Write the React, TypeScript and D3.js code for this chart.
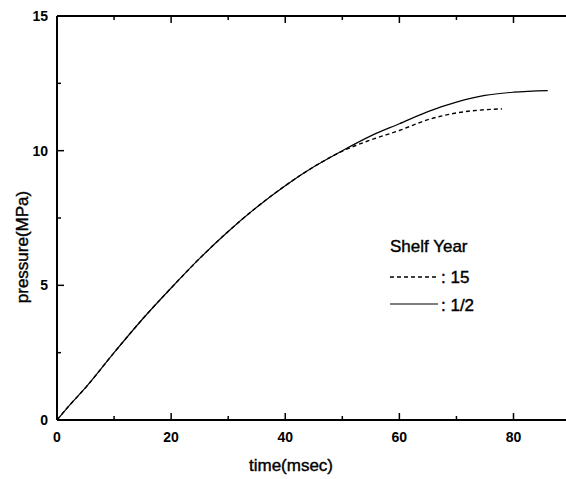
import React from "react";
import * as d3 from "d3";

const timeSolid = [0, 2, 5, 10, 15, 20, 25, 30, 35, 40, 45, 50, 55, 60, 65, 70, 75, 80, 86];
const pressSolid = [0, 0.5, 1.2, 2.5, 3.75, 4.9, 6.0, 7.0, 7.9, 8.7, 9.4, 10.0, 10.55, 11.0, 11.45, 11.8, 12.05, 12.17, 12.23];
const timeDashed = [0, 2, 5, 10, 15, 20, 25, 30, 35, 40, 45, 50, 55, 60, 65, 70, 75, 78];
const pressDashed = [0, 0.5, 1.2, 2.5, 3.75, 4.9, 6.0, 7.0, 7.9, 8.7, 9.4, 9.98, 10.4, 10.75, 11.15, 11.4, 11.52, 11.55];
const xTicks = [0, 20, 40, 60, 80];
const yTicks = [0, 5, 10, 15];
const legendTitle = "Shelf Year";
const legendLabels = [": 15", ": 1/2"];

const W = 566;
const H = 479;
const x = d3.scaleLinear().domain([0, 89.2]).range([57, 566]);
const y = d3.scaleLinear().domain([0, 15]).range([420, 16]);

export default function App() {
  const line = d3.line<[number, number]>().x((d) => x(d[0])).y((d) => y(d[1])).curve(d3.curveMonotoneX);
  const solid = line(timeSolid.map((t, i) => [t, pressSolid[i]]) as [number, number][]) || "";
  const dashed = line(timeDashed.map((t, i) => [t, pressDashed[i]]) as [number, number][]) || "";
  const xMinor = d3.range(10, 90, 20);
  const yMinor = d3.range(2.5, 15, 5);
  const font = "'Liberation Sans', Arial, sans-serif";
  const thick = { stroke: "#000", strokeWidth: 0.4 };
  return (
    <svg width={W} height={H} style={{ position: "absolute", left: 0, top: 0 }} fontFamily={font}>
      <rect width={W} height={H} fill="#fff" />
      {/* axes */}
      <line x1={x(0)} x2={W} y1={y(0)} y2={y(0)} stroke="#000" strokeWidth={2} />
      <line x1={x(0)} x2={W} y1={y(15)} y2={y(15)} stroke="#000" strokeWidth={2} />
      <line x1={x(0)} x2={x(0)} y1={y(0)} y2={y(15)} stroke="#000" strokeWidth={2} />
      {xTicks.map((t) => (
        <g key={"xt" + t}>
          <line x1={x(t)} x2={x(t)} y1={y(0)} y2={y(0) - 7} stroke="#000" strokeWidth={1.5} />
          <line x1={x(t)} x2={x(t)} y1={y(15)} y2={y(15) + 7} stroke="#000" strokeWidth={1.5} />
          <text x={x(t)} y={442} textAnchor="middle" fontSize={14} fontWeight="bold">{t}</text>
        </g>
      ))}
      {xMinor.map((t) => (
        <g key={"xm" + t}>
          <line x1={x(t)} x2={x(t)} y1={y(0)} y2={y(0) - 4} stroke="#000" strokeWidth={1.5} />
          <line x1={x(t)} x2={x(t)} y1={y(15)} y2={y(15) + 4} stroke="#000" strokeWidth={1.5} />
        </g>
      ))}
      {yTicks.map((v) => (
        <g key={"yt" + v}>
          <line x1={x(0)} x2={x(0) + 7} y1={y(v)} y2={y(v)} stroke="#000" strokeWidth={1.5} />
          <text x={48} y={y(v) + 5} textAnchor="end" fontSize={14} fontWeight="bold">{v}</text>
        </g>
      ))}
      {yMinor.map((v) => (
        <line key={"ym" + v} x1={x(0)} x2={x(0) + 4} y1={y(v)} y2={y(v)} stroke="#000" strokeWidth={1.5} />
      ))}
      {/* curves */}
      <path d={dashed} fill="none" stroke="#000" strokeWidth={1.4} strokeDasharray="4,3" />
      <path d={solid} fill="none" stroke="#000" strokeWidth={1.2} />
      {/* axis titles */}
      <text x={291} y={471} textAnchor="middle" fontSize={17} {...thick}>time(msec)</text>
      <text transform={`translate(28,247) rotate(-90)`} textAnchor="middle" fontSize={17} {...thick}>pressure(MPa)</text>
      {/* legend */}
      <text x={390} y={252} fontSize={17} {...thick}>{legendTitle}</text>
      <line x1={390} x2={438} y1={277} y2={277} stroke="#000" strokeWidth={1.4} strokeDasharray="4,3" />
      <text x={441} y={283} fontSize={17} {...thick}>{legendLabels[0]}</text>
      <line x1={390} x2={438} y1={304} y2={304} stroke="#000" strokeWidth={1.2} />
      <text x={441} y={311} fontSize={17} {...thick}>{legendLabels[1]}</text>
    </svg>
  );
}
